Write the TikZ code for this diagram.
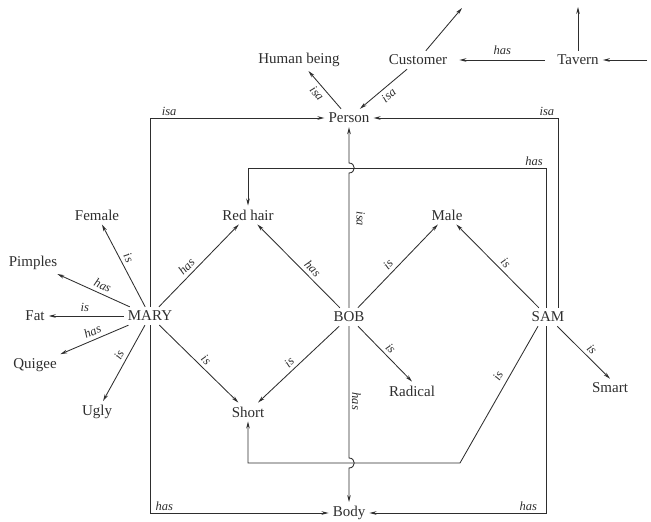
\documentclass[tikz,border=0pt]{standalone}
\usepackage{fontspec}
\setmainfont{Liberation Serif}
\usetikzlibrary{arrows.meta,calc}
\definecolor{ink}{HTML}{2E2E2E}
\begin{document}
\begin{tikzpicture}[x=1pt,y=-1pt,
  concept/.style={inner sep=4pt, text=ink, font=\fontsize{15}{18}\selectfont},
  rel/.style={draw=ink, line width=0.85pt, -{Stealth[length=7pt,width=3.6pt]}},
  lbl/.style={font=\fontsize{12.5}{14}\selectfont\itshape, text=ink, inner sep=1.5pt},
  hop/.style={to path={.. controls +(7,0) and +(7,0) .. (\tikztotarget)}},
]
\useasboundingbox (0,0) rectangle (651,522);

% concepts
\node[concept] (human)    at (299,60)  {Human being};
\node[concept] (customer) at (418,60)  {Customer};
\node[concept] (tavern)   at (578,60)  {Tavern};
\node[concept] (person)   at (349,118) {Person};
\node[concept] (female)   at (97,215)  {Female};
\node[concept] (redhair)  at (248,215) {Red hair};
\node[concept] (male)     at (447,215) {Male};
\node[concept] (pimples)  at (33,263)  {Pimples};
\node[concept] (fat)      at (35,316)  {Fat};
\node[concept] (mary)     at (150,316) {MARY};
\node[concept] (bob)      at (349,317) {BOB};
\node[concept] (sam)      at (548,317) {SAM};
\node[concept] (quigee)   at (35,365)  {Quigee};
\node[concept] (ugly)     at (97,412)  {Ugly};
\node[concept] (short)    at (248,412) {Short};
\node[concept] (radical)  at (412,391) {Radical};
\node[concept] (smart)    at (610,388) {Smart};
\node[concept] (body)     at (349,513) {Body};

% free ends and routing levels
\coordinate (custout)  at (462,8);
\coordinate (tavup)    at (578,7);
\coordinate (tavin)    at (647,60);
\coordinate (hasbar)   at (0,168);
\coordinate (shortbar) at (460,463);

% top of the hierarchy
\draw[rel] (customer) -- (custout);
\draw[rel] (tavern.north) -- (tavup);
\draw[rel] (tavin) -- (tavern);
\draw[rel, shorten <=8pt, shorten >=8pt] (tavern) -- node[lbl, above=3pt] (lTavCust) {has} (customer);
\draw[rel] (person) -- node[lbl, sloped, below=2pt, pos=0.55] (lPerHum) {isa} (human);
\draw[rel] (customer) -- node[lbl, sloped, below=2pt, pos=0.5] (lCusPer) {isa} (person);

% isa links to Person
\draw[rel] (mary.north) |- node[lbl, pos=0.555, above] (lMarPer) {isa} (person.west);
\draw[rel] ([xshift=10pt]sam.north) |- node[lbl, pos=0.53, above] (lSamPer) {isa} (person.east);
\draw[rel] (bob.north) -- node[lbl, pos=0.66, rotate=-90, anchor=south, inner sep=7pt] (lBobPer) {isa}
  ($(bob.north |- hasbar)+(0,5)$) to[hop] ($(bob.north |- hasbar)+(0,-5)$) -- (person.south);

% SAM has Red hair
\draw[rel] ([xshift=-2pt]sam.north) |- node[lbl, pos=0.52, above] (lSamRed) {has}
  (redhair.north |- hasbar) -- (redhair.north);

% has links to Body
\draw[rel] (mary.south) |- node[lbl, pos=0.54, above] (lMarBod) {has} (body.west);
\draw[rel] ([xshift=-2pt]sam.south) |- node[lbl, pos=0.55, above] (lSamBod) {has} (body.east);
\draw[rel] (bob.south) -- node[lbl, pos=0.57, rotate=-90, anchor=south, inner sep=2.5pt] (lBobBod) {has}
  ($(bob.south |- shortbar)+(0,-5)$) to[hop] ($(bob.south |- shortbar)+(0,5)$) -- (body.north);

% SAM is Short
\draw[rel] ([xshift=-10pt]sam.south) -- node[lbl, sloped, above=4pt, pos=0.4] (lSamSho) {is}
  (shortbar) -| (short.south);

% MARY
\draw[rel] (mary) -- node[lbl, sloped, above=2pt, pos=0.55] (lMarFem) {is} (female);
\draw[rel] (mary) -- node[lbl, sloped, above=2pt, pos=0.42] (lMarPim) {has} (pimples);
\draw[rel] (mary) -- node[lbl, above=2pt, pos=0.52] (lMarFat) {is} (fat);
\draw[rel] (mary) -- node[lbl, sloped, above=2pt, pos=0.48] (lMarQui) {has} (quigee);
\draw[rel] (mary) -- node[lbl, sloped, above=2pt, pos=0.45] (lMarUgl) {is} (ugly);
\draw[rel] (mary) -- node[lbl, sloped, above=2pt, pos=0.42] (lMarRed) {has} (redhair);
\draw[rel] (mary) -- node[lbl, sloped, above=2pt, pos=0.52] (lMarSho) {is} (short);

% BOB
\draw[rel] (bob) -- node[lbl, sloped, above=2pt, pos=0.4] (lBobRed) {has} (redhair);
\draw[rel] (bob) -- node[lbl, sloped, above=2pt, pos=0.45] (lBobMal) {is} (male);
\draw[rel] (bob) -- node[lbl, sloped, above=2pt, pos=0.55] (lBobSho) {is} (short);
\draw[rel] (bob) -- node[lbl, sloped, above=2pt, pos=0.5] (lBobRad) {is} (radical.north);

% SAM
\draw[rel] (sam) -- node[lbl, sloped, above=2pt, pos=0.47] (lSamMal) {is} (male);
\draw[rel] (sam) -- node[lbl, sloped, above=2pt, pos=0.55] (lSamSma) {is} (smart.north);
\end{tikzpicture}
\end{document}
